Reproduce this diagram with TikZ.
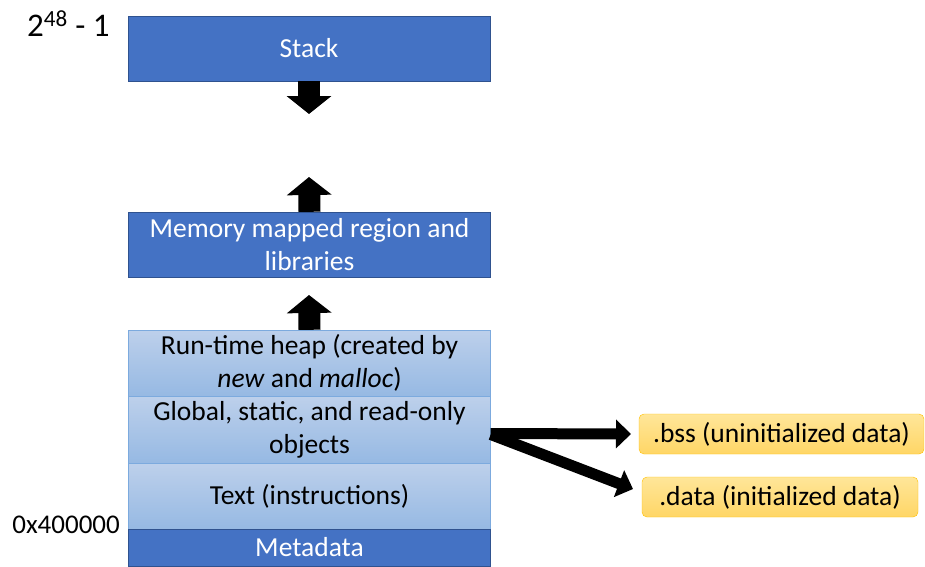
\documentclass[tikz,border=0pt]{standalone}
\usepackage{fontspec}
\setmainfont{Carlito}
\usetikzlibrary{arrows.meta}
\definecolor{darkblue}{RGB}{68,114,196}
\definecolor{darkline}{RGB}{47,82,143}
\definecolor{lightline}{RGB}{124,170,222}
\definecolor{lighttop}{RGB}{189,208,235}
\definecolor{lightbot}{RGB}{150,185,227}
\definecolor{orangetop}{RGB}{255,230,153}
\definecolor{orangebot}{RGB}{255,214,102}
\definecolor{orangeline}{RGB}{255,192,0}

\tikzset{
	region/.style={draw=darkline, fill=darkblue, text=white, minimum width=362pt, align=center, inner sep=0pt, font=\fontsize{27.5}{33}\selectfont},
	segment/.style={draw=lightline, top color=lighttop, bottom color=lightbot, minimum width=362pt, align=center, inner sep=0pt, font=\fontsize{27.5}{33}\selectfont},
	section/.style={draw=orangeline, top color=orangetop, bottom color=orangebot, rounded corners=5pt, minimum height=40pt, inner sep=0pt, font=\fontsize{27.5}{33}\selectfont},
	growarrow/.style={line width=22pt, -{Triangle[width=44pt,length=18pt]}},
	linkarrow/.style={line width=11pt, -{Triangle[width=28pt,length=15pt]}}
}

\begin{document}
\begin{tikzpicture}[x=1pt, y=-1pt]
	\useasboundingbox (0,0) rectangle (925,566);
	% address space, top to bottom
	\node[region, minimum height=65pt] (stack) at (309,48.5) {Stack};
	\node[region, minimum height=65pt] (mmap) at (309.5,244.5) {Memory mapped region and\\libraries};
	\node[segment, minimum height=66pt] (heap) at (309.5,363) {Run-time heap (created by\\\textit{new} and \textit{malloc})};
	\node[segment, minimum height=67pt] (global) at (309.5,429.5) {Global, static, and read-only\\objects};
	\node[segment, minimum height=66pt] (text) at (309.5,496) {Text (instructions)};
	\node[region, minimum height=37pt] (meta) at (309.5,547.5) {Metadata};

	% addresses
	\node[anchor=base west, inner sep=0pt, font=\fontsize{33}{40}\selectfont] (high) at (27,36) {2\textsuperscript{48} - 1};
	\node[anchor=base east, inner sep=0pt, font=\fontsize{27}{33}\selectfont] (low) at (120,533) {0x400000};

	% data sections
	\node[section, minimum width=285pt] (bss) at (781.5,434) {.bss (uninitialized data)};
	\node[section, minimum width=276pt] (data) at (780,497) {.data (initialized data)};

	% growth
	\coordinate (stackend) at (309,114);
	\coordinate (mmapend) at (309,177);
	\coordinate (heapend) at (309,295);
	\draw[growarrow] (stack.south) -- (stackend);
	\draw[growarrow] (mmap.north) -- (mmapend);
	\draw[growarrow] (heap.north) -- (heapend);

	\coordinate (bsstip) at (631,434);
	\coordinate (datatip) at (633,489);
	\draw[linkarrow] ([yshift=-4pt]global.east) -- (bsstip);
	\draw[linkarrow] ([yshift=-5pt]global.east) -- (datatip);
\end{tikzpicture}
\end{document}
